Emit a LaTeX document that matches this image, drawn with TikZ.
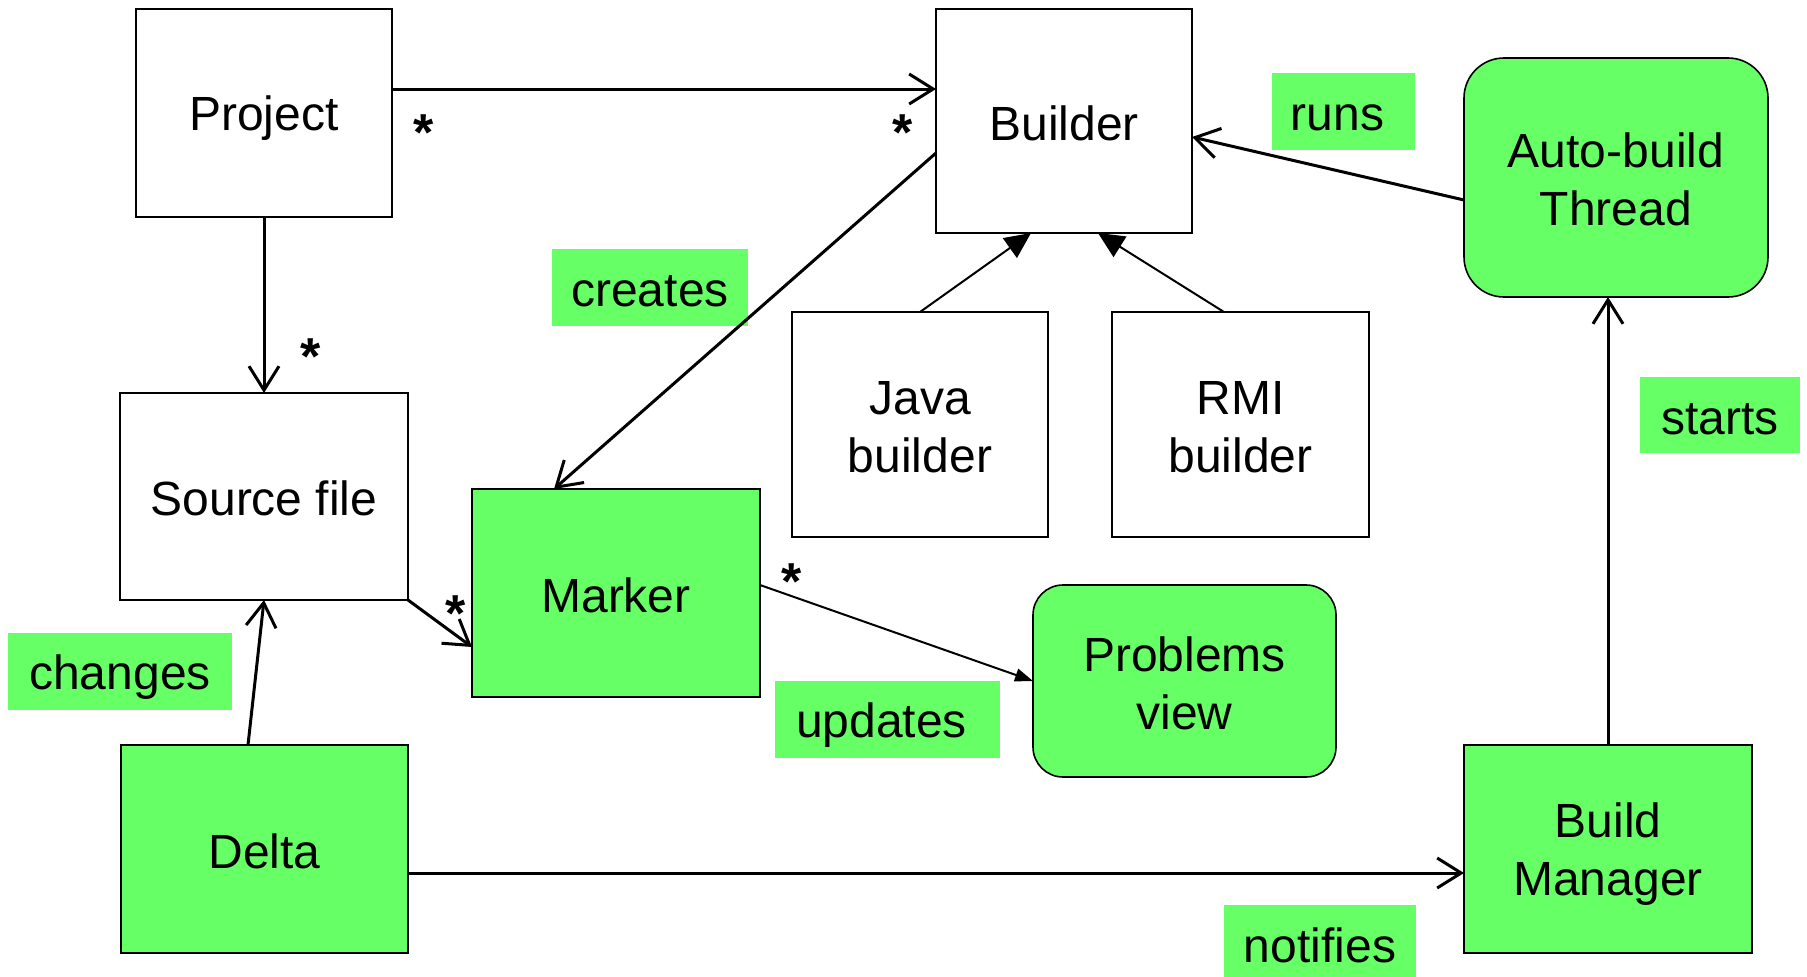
\documentclass[tikz,border=0pt]{standalone}
\usepackage{fontspec}
\setmainfont{Liberation Sans}
\usetikzlibrary{arrows.meta}

\definecolor{boxgreen}{HTML}{66FF66}
% line box of one text line
\newcommand\lnstrut{\rule[-0.16em]{0pt}{1.117em}}

\begin{document}
\begin{tikzpicture}[x=1pt,y=-1pt,
  every node/.style={font=\fontsize{48}{58}\selectfont, inner sep=0pt,
    outer sep=0pt, align=center},
  cls/.style={draw=black, line width=1.6pt, fill=white},
  greencls/.style={cls, fill=boxgreen},
  roundcls/.style={greencls, rounded corners=#1},
  tag/.style={fill=boxgreen},
  mult/.style={anchor=base, font=\fontsize{52}{58}\selectfont\bfseries},
  assoc/.style={line width=3pt,
    -{Straight Barb[length=24pt,width=30pt,line width=3pt]}},
  gen/.style={line width=2pt, -{Triangle[length=26pt,width=24pt]}},
  nav/.style={line width=2pt, -{Triangle[length=18pt,width=13pt]}}
]
\useasboundingbox[fill=white] (0,0) rectangle (1807,977);

% classes
\node[cls, minimum width=256pt, minimum height=208pt] (project) at (264,113) {Project\lnstrut};
\node[cls, minimum width=256pt, minimum height=224pt] (builder) at (1064,121) {Builder\lnstrut};
\node[roundcls=40pt, minimum width=304pt, minimum height=239pt] (autobuild) at (1616,177.5) {Auto-build\lnstrut\\Thread\lnstrut};
\node[cls, minimum width=256pt, minimum height=225pt] (java) at (920,424.5) {Java\lnstrut\\builder\lnstrut};
\node[cls, minimum width=257pt, minimum height=225pt] (rmi) at (1240.5,424.5) {RMI\lnstrut\\builder\lnstrut};
\node[cls, minimum width=288pt, minimum height=207pt] (source) at (264,496.5) {Source file\lnstrut};
\node[greencls, minimum width=288pt, minimum height=208pt] (marker) at (616,593) {Marker\lnstrut};
\node[roundcls=30pt, minimum width=303pt, minimum height=192pt] (problems) at (1184.5,681) {Problems\lnstrut\\view\lnstrut};
\node[greencls, minimum width=287pt, minimum height=208pt] (delta) at (264.5,849) {Delta\lnstrut};
\node[greencls, minimum width=288pt, minimum height=208pt] (bm) at (1608,849) {Build\lnstrut\\Manager\lnstrut};

% relation labels
\node[tag, minimum width=143pt, minimum height=77pt] (runs) at (1343.5,111.5) {runs\kern12pt\lnstrut};
\node[tag, minimum width=196pt, minimum height=77pt] (creates) at (650,287.5) {creates\lnstrut};
\node[tag, minimum width=160pt, minimum height=76pt] (starts) at (1720,415) {starts\lnstrut};
\node[tag, minimum width=224pt, minimum height=77pt] (changes) at (120,671.5) {changes\lnstrut};
\node[tag, minimum width=225pt, minimum height=77pt] (updates) at (887.5,719.5) {updates\kern12pt\lnstrut};
\node[tag, minimum width=192pt, minimum height=77pt] (notifies) at (1320,943.5) {notifies\lnstrut};

% connectors
\draw[assoc] ([yshift=24pt]project.east) -- ([yshift=32pt]builder.west);
\draw[assoc] (project.south) -- (source.north);
\draw[assoc] ([yshift=-32pt]builder.west) -- ([xshift=-62pt]marker.north);
\draw[assoc] (source.south east) -- ([yshift=-54pt]marker.west);
\draw[nav] ([yshift=8pt]marker.east) -- (problems.west);
\draw[assoc] ([xshift=-16.5pt]delta.north) -- (source.south);
\draw[assoc] ([yshift=-24pt]delta.east) -- ([yshift=-24pt]bm.west);
\draw[assoc] (bm.north) -- (bm.north |- autobuild.south);
\draw[assoc] ([yshift=-22.5pt]autobuild.west) -- ([yshift=-16pt]builder.east);
\draw[gen] (java.north) -- ([xshift=-33pt]builder.south);
\draw[gen] ([xshift=-16.5pt]rmi.north) -- ([xshift=34pt]builder.south);

% multiplicities
\node[mult] (m1) at (424,150) {*};
\node[mult] (m2) at (903,150) {*};
\node[mult] (m3) at (311,374) {*};
\node[mult] (m4) at (456,631) {*};
\node[mult] (m5) at (792,599) {*};
\end{tikzpicture}
\end{document}
